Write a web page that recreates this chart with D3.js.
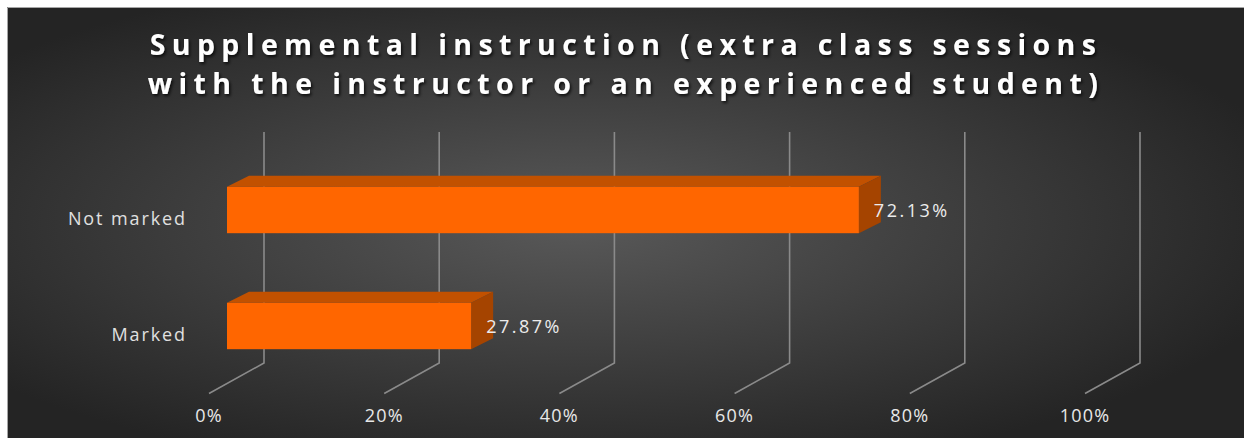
<!DOCTYPE html>
<html>
<head>
<meta charset="utf-8">
<script src="https://cdn.jsdelivr.net/npm/d3@7"></script>
<style>
  html, body { margin: 0; padding: 0; background: #ffffff; }
  svg { display: block; }
  text { font-family: "Open Sans", "Noto Sans", sans-serif; }
</style>
</head>
<body>
<svg id="chart" width="1244" height="438"></svg>
<script>
// Survey answers for the supplemental instruction item
const categories = ["Not marked", "Marked"];
const shares = [0.7213, 0.2787];
const tickValues = [0, 0.2, 0.4, 0.6, 0.8, 1.0];
const tickLabels = ["0%", "20%", "40%", "60%", "80%", "100%"];
const titleLines = [
  "Supplemental instruction (extra class sessions",
  "with the instructor or an experienced student)"
];

const W = 1244, H = 438;
const svg = d3.select("#chart");
const defs = svg.append("defs");

// Dark radial backdrop
const bg = defs.append("radialGradient")
  .attr("id", "bgGrad")
  .attr("cx", "46%").attr("cy", "50%").attr("r", "60%");
bg.append("stop").attr("offset", "0%").attr("stop-color", "#595959");
bg.append("stop").attr("offset", "100%").attr("stop-color", "#242424");

// Soft shadow under the title
const shadow = defs.append("filter").attr("id", "titleShadow")
  .attr("x", "-5%").attr("y", "-30%").attr("width", "110%").attr("height", "160%");
shadow.append("feDropShadow")
  .attr("dx", 1.5).attr("dy", 2).attr("stdDeviation", 1.6)
  .attr("flood-color", "#000").attr("flood-opacity", 0.75);

svg.append("rect")
  .attr("x", 7).attr("y", 7).attr("width", W - 7).attr("height", H - 7)
  .attr("fill", "url(#bgGrad)");
svg.append("path")
  .attr("d", `M7.5,${H}V7.5H${W}`)
  .attr("fill", "none").attr("stroke", "#a6a6a6").attr("stroke-width", 1);

// Title
svg.append("g")
  .attr("filter", "url(#titleShadow)")
  .selectAll("text")
  .data(titleLines)
  .join("text")
  .attr("x", 626)
  .attr("y", (d, i) => 55 + i * 39)
  .attr("text-anchor", "middle")
  .attr("font-size", 28.5)
  .attr("font-weight", 700)
  .attr("letter-spacing", 6.4)
  .attr("fill", "#ffffff")
  .text(d => d);

// Pseudo-3D geometry: back wall scale plus depth offsets
const x = d3.scaleLinear().domain([0, 1]).range([264, 1140]);
const wallTop = 132, wallBottom = 363;
const floorDx = -55, floorDy = 30.5;      // back wall -> front edge of floor
const barFrontDx = -37;                   // bar front face relative to back wall
const barDepthDx = 22, barDepthDy = -11;  // bar front face -> bar back face

const y = d3.scaleBand()
  .domain(categories)
  .range([152, 384])
  .paddingInner(0.6)
  .paddingOuter(0.3);

// Back wall gridlines and floor lines
const grid = svg.append("g")
  .attr("stroke", "#8a8a8a")
  .attr("stroke-width", 1.6)
  .attr("fill", "none");
grid.selectAll("path")
  .data(tickValues)
  .join("path")
  .attr("d", d => {
    const xb = x(d);
    return `M${xb},${wallTop}V${wallBottom}L${xb + floorDx},${wallBottom + floorDy}`;
  });

// Axis tick labels along the front edge of the floor
svg.append("g")
  .selectAll("text")
  .data(tickValues)
  .join("text")
  .attr("x", d => x(d) + floorDx)
  .attr("y", 422)
  .attr("text-anchor", "middle")
  .attr("font-size", 18)
  .attr("letter-spacing", 1.2)
  .attr("fill", "#e8e8e8")
  .text((d, i) => tickLabels[i]);

// Category labels, set on the floor-depth line below each bar centre
svg.append("g")
  .selectAll("text")
  .data(categories)
  .join("text")
  .attr("x", 187)
  .attr("y", d => y(d) + y.bandwidth() / 2 + 9)
  .attr("dy", "0.35em")
  .attr("text-anchor", "end")
  .attr("font-size", 18)
  .attr("letter-spacing", 1.9)
  .attr("fill", "#e0e0e0")
  .text(d => d);

// 3D bars
const bars = svg.append("g")
  .selectAll("g")
  .data(categories.map((c, i) => ({ cat: c, v: shares[i] })))
  .join("g");

const x0 = d => x(0) + barFrontDx;
const x1 = d => x(d.v) + barFrontDx;
const yt = d => y(d.cat);
const yb = d => y(d.cat) + y.bandwidth();

// top face
bars.append("path")
  .attr("fill", "#c25100")
  .attr("d", d => `M${x0(d)},${yt(d)}L${x0(d) + barDepthDx},${yt(d) + barDepthDy}` +
                  `L${x1(d) + barDepthDx},${yt(d) + barDepthDy}L${x1(d)},${yt(d)}Z`);
// end face
bars.append("path")
  .attr("fill", "#a54400")
  .attr("d", d => `M${x1(d)},${yt(d)}L${x1(d) + barDepthDx},${yt(d) + barDepthDy}` +
                  `L${x1(d) + barDepthDx},${yb(d) + barDepthDy}L${x1(d)},${yb(d)}Z`);
// front face
bars.append("rect")
  .attr("fill", "#ff6600")
  .attr("x", d => x0(d))
  .attr("y", d => yt(d))
  .attr("width", d => x1(d) - x0(d))
  .attr("height", y.bandwidth());

// Value labels
bars.append("text")
  .attr("x", d => x1(d) + 15)
  .attr("y", d => (yt(d) + yb(d)) / 2 + 1)
  .attr("dy", "0.35em")
  .attr("font-size", 18)
  .attr("letter-spacing", 2.5)
  .attr("fill", "#ececec")
  .text(d => (d.v * 100).toFixed(2) + "%");
</script>
</body>
</html>
